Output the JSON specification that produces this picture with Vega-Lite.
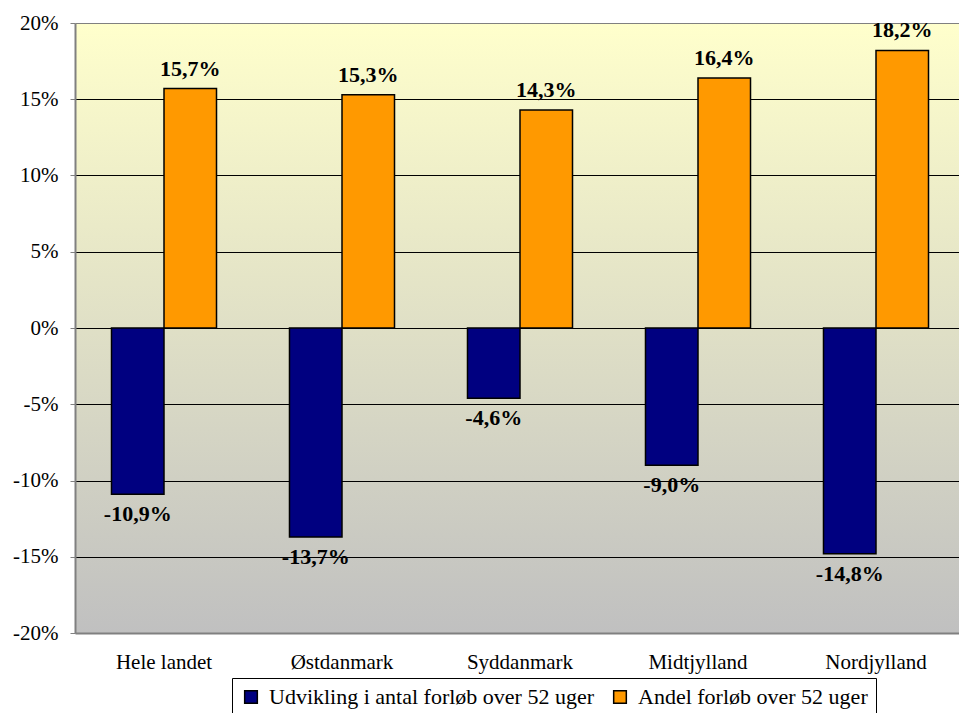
{
  "$schema": "https://vega.github.io/schema/vega-lite/v6.json",
  "width": 890,
  "height": 610,
  "autosize": "none",
  "padding": {"left": 75, "top": 23, "right": 0, "bottom": 80},
  "background": "white",
  "config": {
    "font": "Liberation Serif",
    "locale": {"number": {"decimal": ",", "thousands": ".", "grouping": [3], "currency": ["", " kr"], "minus": "-"}},
    "view": {
      "stroke": null,
      "fill": {"gradient": "linear", "x1": 0, "y1": 0, "x2": 0, "y2": 1, "stops": [{"offset": 0, "color": "#FFFFCC"}, {"offset": 1, "color": "#C0C0C0"}]}
    }
  },
  "data": {
    "values": [
      {"region": "Hele landet", "series": "Udvikling i antal forløb over 52 uger", "value": -0.109},
      {"region": "Hele landet", "series": "Andel forløb over 52 uger", "value": 0.157},
      {"region": "Østdanmark", "series": "Udvikling i antal forløb over 52 uger", "value": -0.137},
      {"region": "Østdanmark", "series": "Andel forløb over 52 uger", "value": 0.153},
      {"region": "Syddanmark", "series": "Udvikling i antal forløb over 52 uger", "value": -0.046},
      {"region": "Syddanmark", "series": "Andel forløb over 52 uger", "value": 0.143},
      {"region": "Midtjylland", "series": "Udvikling i antal forløb over 52 uger", "value": -0.090},
      {"region": "Midtjylland", "series": "Andel forløb over 52 uger", "value": 0.164},
      {"region": "Nordjylland", "series": "Udvikling i antal forløb over 52 uger", "value": -0.148},
      {"region": "Nordjylland", "series": "Andel forløb over 52 uger", "value": 0.182}
    ]
  },
  "encoding": {
    "x": {
      "field": "region", "type": "nominal",
      "sort": ["Hele landet", "Østdanmark", "Syddanmark", "Midtjylland", "Nordjylland"],
      "scale": {"paddingInner": 0.41, "paddingOuter": 0.205},
      "axis": {"title": null, "labelAngle": 0, "labelFontSize": 21, "labelColor": "black", "labelPadding": 18, "ticks": false, "domainColor": "#808080", "domainWidth": 2}
    },
    "xOffset": {"field": "series", "type": "nominal", "sort": ["Udvikling i antal forløb over 52 uger", "Andel forløb over 52 uger"]},
    "y": {
      "field": "value", "type": "quantitative",
      "scale": {"domain": [-0.2, 0.2], "nice": false},
      "axis": {
        "title": null, "format": ".0%", "values": [-0.2, -0.15, -0.1, -0.05, 0, 0.05, 0.1, 0.15, 0.2],
        "labelFontSize": 21, "labelColor": "black", "labelPadding": 12,
        "tickSize": 5, "tickColor": "#808080", "domainColor": "#808080", "domainWidth": 2,
        "grid": true, "gridOpacity": 1,
        "gridColor": {"condition": {"test": "datum.value >= 0.2 || datum.value <= -0.2", "value": "#808080"}, "value": "black"}
      }
    }
  },
  "layer": [
    {
      "mark": {"type": "bar", "stroke": "black", "strokeWidth": 1.5},
      "encoding": {
        "color": {
          "field": "series", "type": "nominal",
          "scale": {"domain": ["Udvikling i antal forløb over 52 uger", "Andel forløb over 52 uger"], "range": ["#000080", "#FF9900"]},
          "legend": {
            "title": null, "orient": "none", "legendX": 157, "legendY": 655, "direction": "horizontal",
            "symbolType": "square", "symbolSize": 160, "symbolStrokeColor": "black", "symbolStrokeWidth": 1.5, "symbolOpacity": 1,
            "labelFontSize": 22, "labelColor": "black", "labelLimit": 0, "strokeColor": "black", "fillColor": "white",
            "padding": 8, "columnPadding": 14, "symbolOffset": 0, "labelOffset": 7
          }
        }
      }
    },
    {
      "transform": [{"filter": "datum.value >= 0"}],
      "mark": {"type": "text", "baseline": "bottom", "dy": -8, "fontSize": 22, "fontWeight": "bold", "color": "black"},
      "encoding": {"text": {"field": "value", "type": "quantitative", "format": ".1%"}}
    },
    {
      "transform": [{"filter": "datum.value < 0"}],
      "mark": {"type": "text", "baseline": "top", "dy": 10, "fontSize": 22, "fontWeight": "bold", "color": "black"},
      "encoding": {"text": {"field": "value", "type": "quantitative", "format": ".1%"}}
    }
  ]
}
